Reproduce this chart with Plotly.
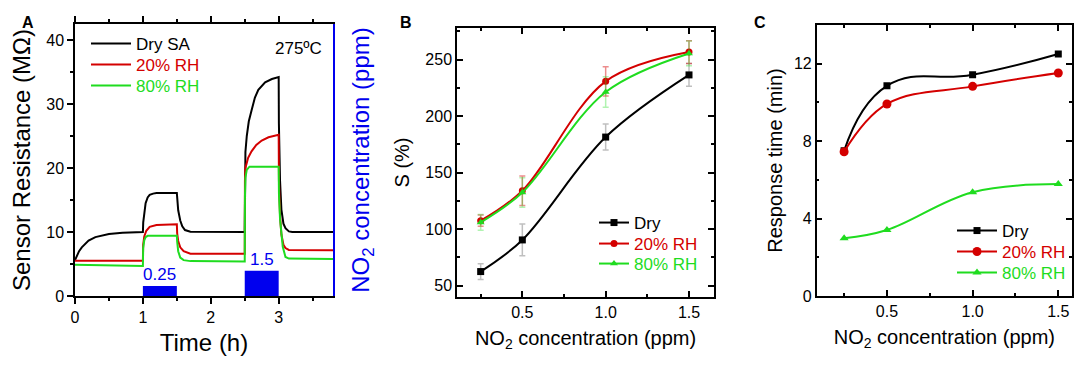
import plotly.graph_objects as go

# ---------------- Panel A: sensor resistance vs time ----------------
t_dry = [0, 0.03, 0.06, 0.1, 0.15, 0.2, 0.3, 0.4, 0.5, 0.7, 0.9,
         1.0, 1.005, 1.02, 1.04, 1.07, 1.1, 1.15, 1.2,
         1.5, 1.505, 1.52, 1.55, 1.58, 1.62, 1.7,
         2.5, 2.502, 2.51, 2.53, 2.56, 2.6, 2.65, 2.7, 2.8, 2.9,
         3.0, 3.003, 3.02, 3.04, 3.07, 3.1, 3.15, 3.2, 3.8]
r_dry = [5.6, 6.4, 7.0, 7.6, 8.2, 8.65, 9.2, 9.5, 9.7, 9.9, 10.0,
         10.0, 11.5, 13.2, 14.5, 15.4, 15.8, 16.0, 16.1,
         16.1, 15.0, 13.4, 11.8, 10.9, 10.3, 10.05,
         10.0, 19.0, 22.5, 25.0, 27.3, 29.0, 31.0, 32.2, 33.4, 33.9,
         34.2, 27.0, 18.0, 13.5, 11.3, 10.6, 10.1, 10.0, 10.0]

t_20 = [0, 1.0, 1.004, 1.02, 1.05, 1.1, 1.2,
        1.5, 1.505, 1.52, 1.55, 1.6, 1.7,
        2.5, 2.503, 2.51, 2.55, 2.6, 2.67, 2.75, 2.85,
        3.0, 3.004, 3.02, 3.04, 3.07, 3.1, 3.15, 3.8]
r_20 = [5.5, 5.5, 8.0, 9.3, 10.2, 10.8, 11.1,
        11.2, 9.8, 8.6, 7.6, 7.0, 6.6,
        6.6, 18.0, 20.0, 21.6, 22.6, 23.6, 24.3, 24.8,
        25.2, 18.0, 12.5, 9.6, 8.0, 7.5, 7.2, 7.15]

t_80 = [0, 1.0, 1.004, 1.02, 1.04, 1.07, 1.1,
        1.5, 1.505, 1.52, 1.55, 1.6, 1.7,
        2.5, 2.503, 2.51, 2.53, 2.57,
        3.0, 3.004, 3.02, 3.04, 3.06, 3.1, 3.15, 3.8]
r_80 = [4.9, 4.7, 7.5, 8.7, 9.2, 9.4, 9.4,
        9.4, 8.5, 7.0, 6.0, 5.6, 5.45,
        5.4, 15.5, 18.5, 19.7, 20.2,
        20.2, 16.0, 12.0, 9.5, 7.7, 6.1, 5.85, 5.8]

no2_start = [1.0, 2.5]
no2_end = [1.5, 3.0]
no2_label = ["0.25", "1.5"]
no2_bar_height = [1.55, 3.95]   # drawn heights as read in left-axis units

# ---------------- Panel B: sensitivity ----------------
conc = [0.25, 0.5, 1.0, 1.5]
s_dry = [62.5, 90.5, 181.5, 236.5]
s_dry_err = [7, 14, 11.5, 10]
s_20 = [107.5, 134, 230.8, 256.7]
s_20_err = [5, 13, 13, 10]
s_80 = [106, 132.5, 221.4, 255.5]
s_80_err = [7, 13, 13.5, 11]

# ---------------- Panel C: response time ----------------
rt_dry = [7.5, 10.86, 11.43, 12.5]
rt_20 = [7.45, 9.92, 10.83, 11.52]
rt_80 = [2.98, 3.41, 5.36, 5.78]

BLACK = "#000000"
RED = "#d40000"
GREEN = "#1fdc1f"
BLUE = "#0000ee"
FONT = "Arial, 'Liberation Sans', sans-serif"
OFF = 8                      # page body margin
W, H = 1084 - OFF, 370 - OFF


def px_x(p):
    return (p - OFF) / W


def px_y(p):
    return 1 - (p - OFF) / H


def lab(txt, col):
    return f"<span style='color:{col}'>{txt}</span>"


fig = go.Figure()

# Panel A traces
for i, (t, r, nm, col) in enumerate([(t_dry, r_dry, "Dry SA", BLACK),
                                     (t_20, r_20, "20% RH", RED),
                                     (t_80, r_80, "80% RH", GREEN)]):
    fig.add_trace(go.Scatter(x=t, y=r, mode="lines", name=lab(nm, col),
                             line=dict(color=col, width=2),
                             xaxis="x", yaxis="y",
                             legend="legend" if i == 0 else f"legend{i + 1}"))

bar_x = [(s + e) / 2 for s, e in zip(no2_start, no2_end)]
fig.add_trace(go.Bar(
    x=bar_x,
    y=no2_bar_height,
    width=[e - s for s, e in zip(no2_start, no2_end)],
    marker=dict(color=BLUE, line=dict(width=0)),
    xaxis="x", yaxis="y2", showlegend=False))

# Panel B traces
for i, (y, e, nm, col, sym, ecol) in enumerate([
        (s_dry, s_dry_err, "Dry", BLACK, "square", "rgba(0,0,0,0.25)"),
        (s_20, s_20_err, "20% RH", RED, "circle", "rgba(212,0,0,0.45)"),
        (s_80, s_80_err, "80% RH", GREEN, "triangle-up", "rgba(31,220,31,0.35)")]):
    fig.add_trace(go.Scatter(
        x=conc, y=y, mode="lines+markers", name=lab(nm, col),
        line=dict(color=col, width=2, shape="spline", smoothing=1.0),
        marker=dict(symbol=sym, size=7, color=col),
        error_y=dict(type="data", array=e, color=ecol, thickness=1.5, width=3),
        xaxis="x2", yaxis="y3", legend=f"legend{i + 4}"))

# Panel C traces
for i, (y, nm, col, sym, sz, sm) in enumerate([
        (rt_dry, "Dry", BLACK, "square", 7, 1.3),
        (rt_20, "20% RH", RED, "circle", 9, 1.1),
        (rt_80, "80% RH", GREEN, "triangle-up", 8, 1.1)]):
    fig.add_trace(go.Scatter(
        x=conc, y=y, mode="lines+markers", name=lab(nm, col),
        line=dict(color=col, width=2, shape="spline", smoothing=sm),
        marker=dict(symbol=sym, size=sz, color=col),
        xaxis="x3", yaxis="y4", legend=f"legend{i + 7}"))

tickfont = dict(size=16, color="black", family=FONT)
common = dict(showline=True, linecolor="black", linewidth=1.5, showgrid=False,
              zeroline=False, tickfont=tickfont, tickcolor="black", tickwidth=1.5,
              automargin=False)


def leg(xp, yp, iw):
    return dict(x=px_x(xp), y=px_y(yp), xanchor="left", yanchor="middle",
                bgcolor="rgba(0,0,0,0)", font=dict(size=17), itemwidth=iw,
                borderwidth=0)


legends = {}
for k, yc in zip(["legend", "legend2", "legend3"], [44, 65, 86]):
    legends[k] = leg(86, yc, 40)
for k, yc in zip(["legend4", "legend5", "legend6"], [223, 244, 264]):
    legends[k] = leg(594, yc, 30)
for k, yc in zip(["legend7", "legend8", "legend9"], [231, 252, 273]):
    legends[k] = leg(952, yc, 40)

annotations = [
    dict(text="275ºC", x=3.29, y=38.75, xref="x", yref="y", showarrow=False,
         font=dict(size=17, color="black")),
    dict(text="<b>A</b>", x=px_x(20), y=px_y(12), xref="paper", yref="paper",
         showarrow=False, font=dict(size=16)),
    dict(text="<b>B</b>", x=px_x(406), y=px_y(12), xref="paper", yref="paper",
         showarrow=False, font=dict(size=16)),
    dict(text="<b>C</b>", x=px_x(768), y=px_y(12), xref="paper", yref="paper",
         showarrow=False, font=dict(size=16)),
]
for bx, bh, bl in zip(bar_x, no2_bar_height, no2_label):
    annotations.append(dict(text=bl, x=bx, y=bh, xref="x", yref="y2",
                            yanchor="bottom", showarrow=False, yshift=0,
                            font=dict(size=17, color=BLUE)))

fig.update_layout(
    width=W, height=H,
    margin=dict(l=0, r=0, t=0, b=0, autoexpand=False),
    paper_bgcolor="white", plot_bgcolor="white",
    font=dict(family=FONT, color="black"),
    barmode="overlay",
    xaxis=dict(domain=[px_x(75), px_x(333)], anchor="y", range=[0, 3.8],
               tick0=0, dtick=1, ticks="outside", ticklen=6, mirror="ticks",
               minor=dict(dtick=0.5, ticks="outside", ticklen=3, tickcolor="black"),
               title=dict(text="Time (h)", font=dict(size=24), standoff=9),
               **common),
    yaxis=dict(domain=[px_y(296), px_y(24)], anchor="x", range=[0, 42.5],
               tick0=0, dtick=10, ticks="outside", ticklen=6,
               minor=dict(dtick=5, ticks="outside", ticklen=3, tickcolor="black"),
               title=dict(text="Sensor Resistance (MΩ)", font=dict(size=24), standoff=10),
               **common),
    yaxis2=dict(overlaying="y", anchor="x", side="right", range=[0, 42.5],
                showline=True, linecolor=BLUE, linewidth=1.5, showgrid=False,
                zeroline=False, showticklabels=False, ticks="", automargin=False,
                title=dict(text="NO<sub>2</sub> concentration (ppm)",
                           font=dict(size=24, color=BLUE), standoff=18)),
    xaxis2=dict(domain=[px_x(457), px_x(714)], anchor="y3", range=[0.108, 1.65],
                tick0=0, dtick=0.5, tickformat=".1f", ticks="inside", ticklen=6,
                mirror="ticks",
                minor=dict(dtick=0.25, ticks="inside", ticklen=3, tickcolor="black"),
                title=dict(text="NO<sub>2</sub> concentration (ppm)", font=dict(size=20),
                           standoff=11),
                **common),
    yaxis3=dict(domain=[px_y(297), px_y(28)], anchor="x2", range=[40, 278],
                tick0=0, dtick=50, ticks="inside", ticklen=6, mirror="ticks",
                minor=dict(dtick=25, ticks="inside", ticklen=3, tickcolor="black"),
                title=dict(text="S (%)", font=dict(size=20), standoff=10),
                **common),
    xaxis3=dict(domain=[px_x(816.7), px_x(1072)], anchor="y4", range=[0.09, 1.58],
                tick0=0, dtick=0.5, tickformat=".1f", ticks="inside", ticklen=6,
                mirror="ticks",
                minor=dict(dtick=0.25, ticks="inside", ticklen=3, tickcolor="black"),
                title=dict(text="NO<sub>2</sub> concentration (ppm)", font=dict(size=20),
                           standoff=11),
                **common),
    yaxis4=dict(domain=[px_y(296), px_y(25)], anchor="x3", range=[0, 14],
                tick0=0, dtick=4, ticks="inside", ticklen=6, mirror="ticks",
                minor=dict(dtick=2, ticks="inside", ticklen=3, tickcolor="black"),
                title=dict(text="Response time (min)", font=dict(size=20), standoff=6),
                **common),
    annotations=annotations,
    **legends,
)

fig.write_html("out.html")
